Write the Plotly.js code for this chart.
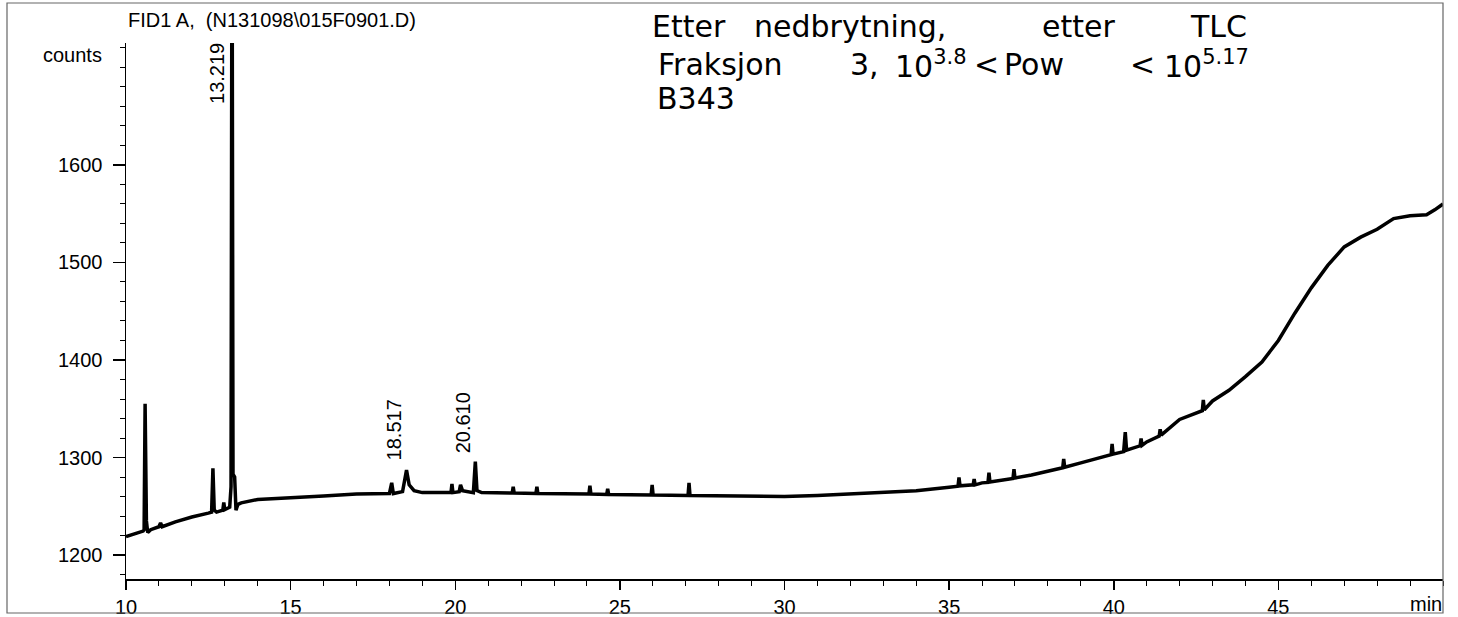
<!DOCTYPE html>
<html><head><meta charset="utf-8">
<script src="https://cdn.plot.ly/plotly-3.0.1.min.js"></script>
<style>html,body{margin:0;padding:0;background:#fff}#chart{width:1458px;height:617px}</style>
</head><body><div id="chart"></div>
<script>
// retention time (min)
const timeMin = [
 10.00,10.20,10.40,10.52,10.55,10.58,10.62,10.66,10.75,11.00,11.05,11.10,11.50,12.00,12.50,
 12.60,12.64,12.68,12.75,12.94,12.97,13.00,13.15,13.19,13.22,13.25,13.30,13.34,13.40,13.50,
 14.00,15.00,16.00,17.00,18.00,18.07,18.12,18.40,18.52,18.60,18.75,19.00,19.50,19.87,19.90,
 19.93,20.12,20.16,20.22,20.55,20.61,20.66,20.80,21.00,21.73,21.76,21.79,22.45,22.48,22.51,
 23.00,24.06,24.09,24.12,24.60,24.63,24.66,25.00,25.95,25.98,26.01,27.07,27.10,27.13,28.00,
 29.00,30.00,31.00,32.00,33.00,34.00,35.00,35.27,35.30,35.33,35.73,35.76,35.79,36.00,36.18,
 36.21,36.24,36.94,36.97,37.00,37.50,38.00,38.45,38.48,38.51,39.00,39.50,39.92,39.95,39.98,
 40.30,40.35,40.39,40.80,40.83,40.86,41.00,41.38,41.41,41.44,42.00,42.50,42.69,42.72,42.75,
 43.00,43.50,44.00,44.50,45.00,45.50,46.00,46.50,47.00,47.50,48.00,48.50,49.00,49.50,49.75,50.00
];
// FID signal (counts)
const counts = [
 1218.8,1221,1223,1224.5,1226,1355,1235,1223,1226,1229,1233,1229,1234,1239,1243,
 1244,1289,1246,1244,1246,1254,1246.5,1249,1270,1900,1283,1280,1246,1252,1253.5,
 1257,1258.5,1260.5,1262.6,1263,1274,1263,1265,1287,1272,1266,1264,1264,1264,1273,
 1264,1265,1272,1266,1264,1295.7,1266,1264,1264,1263.5,1270,1263.5,1263,1270,1263,
 1263,1262.5,1271,1262.5,1262,1268,1262,1262,1261.5,1272,1261.5,1261,1274,1261,1260.5,
 1260,1260,1261,1262.5,1264,1266,1269.5,1270.5,1279.5,1271,1272,1278,1272,1274,1274.5,
 1284.5,1275,1278.5,1288,1279,1282,1286,1289.5,1298.5,1290,1294.5,1299,1303,1314,1303.5,
 1306,1326,1307.5,1312,1319.5,1312.5,1316,1322,1329,1323,1339,1345,1348,1359,1349,
 1358,1369,1383,1398,1420,1448,1474,1497,1516,1526,1534,1545,1548,1549,1554,1560
];
const xTickVals = [10,15,20,25,30,35,40,45];
const yTickVals = [1200,1300,1400,1500,1600];
const peakTimes = [13.219,18.517,20.610];
const peakLabels = ['13.219','18.517','20.610'];
const chartTitle = 'FID1 A,  (N131098\\015F0901.D)';
const yUnit = 'counts';
const xUnit = 'min';
// handwritten note, word by word
const noteLine1 = ['Etter','nedbrytning,','etter','TLC'];
const noteLine2 = ['Fraksjon','3,','10<sup>3.8</sup>','&lt;','Pow','&lt;','10<sup>5.17</sup>'];
const noteLine3 = ['B343'];

// layout geometry in pixels
const W=1458,H=617,L=126,R=15,T=43,B=38;
const PW=W-L-R, PH=H-T-B;
const px=p=>(p-L)/PW, py=p=>(H-B-p)/PH;
const F='"Liberation Sans", Arial, sans-serif';
const HF='"DejaVu Sans", sans-serif';
const FS=20, HS=30;

const ann=[];
ann.push({text:yUnit,xref:'paper',yref:'paper',x:px(104),y:py(55),xanchor:'right',yanchor:'middle',showarrow:false,font:{family:F,size:FS,color:'#000'}});
ann.push({text:xUnit,xref:'paper',yref:'paper',x:px(1444),y:py(604),xanchor:'right',yanchor:'middle',showarrow:false,font:{family:F,size:FS,color:'#000'}});
const peakLabelY=[73,430,423];
peakTimes.forEach((t,i)=>ann.push({text:peakLabels[i],xref:'x',yref:'paper',x:t,xshift:-(i===0?15:12),y:py(peakLabelY[i]),textangle:-90,xanchor:'center',yanchor:'middle',showarrow:false,font:{family:F,size:FS,color:'#000'}}));
const l1x=[650,752,1040,1188], l2x=[656,848,893,972,1002,1128,1162];
noteLine1.forEach((w,i)=>ann.push({text:w,xref:'paper',yref:'paper',x:px(l1x[i]),y:py(27),xanchor:'left',yanchor:'middle',showarrow:false,font:{family:HF,size:HS,color:'#000'}}));
noteLine2.forEach((w,i)=>ann.push({text:w,xref:'paper',yref:'paper',x:px(l2x[i]),y:py(64),xanchor:'left',yanchor:'middle',showarrow:false,font:{family:HF,size:HS,color:'#000'}}));
noteLine3.forEach((w,i)=>ann.push({text:w,xref:'paper',yref:'paper',x:px(655),y:py(98),xanchor:'left',yanchor:'middle',showarrow:false,font:{family:HF,size:HS,color:'#000'}}));

const trace={x:timeMin,y:counts,type:'scatter',mode:'lines',line:{color:'#000',width:3.5},hoverinfo:'skip'};

const layout={
  width:W,height:H,margin:{l:L,r:R,t:T,b:B,pad:0},
  paper_bgcolor:'#fff',plot_bgcolor:'#fff',showlegend:false,
  title:{text:chartTitle,x:px(128),xref:'paper',xanchor:'left',y:1-20/H,yref:'container',yanchor:'middle',font:{family:F,size:FS,color:'#000'}},
  xaxis:{range:[10,50],showgrid:false,zeroline:false,showline:true,linecolor:'#000',linewidth:1.5,
    tickmode:'array',tickvals:xTickVals,ticks:'outside',ticklen:9,tickwidth:1.5,tickcolor:'#000',
    ticklabelstandoff:0,tickfont:{family:F,size:FS,color:'#000'},
    minor:{tickmode:'linear',tick0:10,dtick:1,ticks:'outside',ticklen:5,tickwidth:1,tickcolor:'#000',showgrid:false}},
  yaxis:{range:[1175.4,1725.1],showgrid:false,zeroline:false,showline:true,linecolor:'#000',linewidth:1.5,
    tickmode:'array',tickvals:yTickVals,ticks:'outside',ticklen:12,tickwidth:1.5,tickcolor:'#000',
    ticklabelstandoff:6,tickfont:{family:F,size:FS,color:'#000'},
    minor:{tickmode:'linear',tick0:1200,dtick:20,ticks:'outside',ticklen:5,tickwidth:1,tickcolor:'#000',showgrid:false}},
  shapes:[{type:'rect',xref:'paper',yref:'paper',x0:px(7),x1:px(1443),y0:py(613),y1:py(3),line:{color:'#666',width:1.2},fillcolor:'rgba(0,0,0,0)'}],
  annotations:ann
};
Plotly.newPlot('chart',[trace],layout,{staticPlot:true,displayModeBar:false});
</script></body></html>
